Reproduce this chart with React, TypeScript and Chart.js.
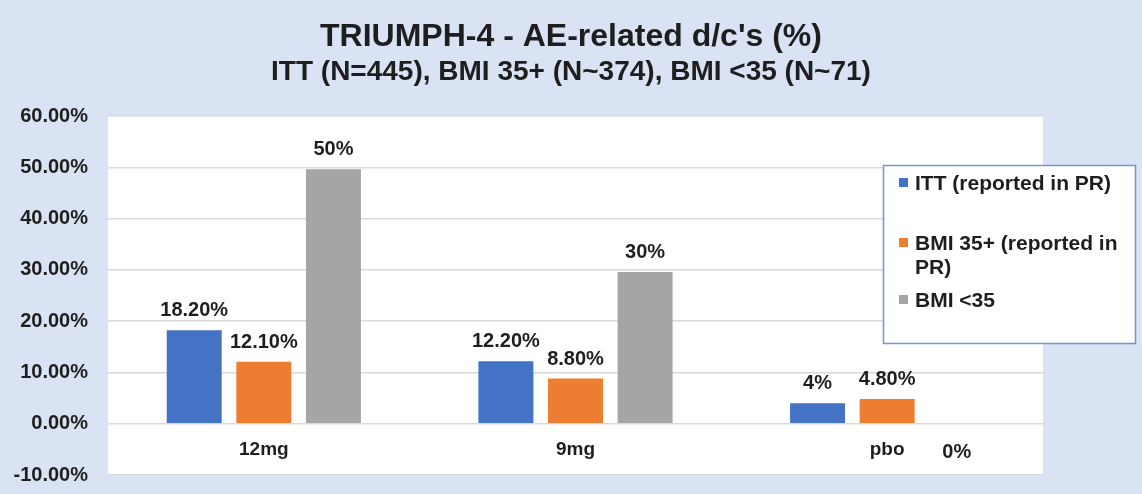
import React, { useEffect, useRef } from 'react';
import { Chart, registerables } from 'chart.js';

Chart.register(...registerables);

const categories = ['12mg', '9mg', 'pbo'];
const seriesNames = ['ITT (reported in PR)', 'BMI 35+ (reported in PR)', 'BMI <35'];
const seriesColors = ['#4472c4', '#ed7d31', '#a5a5a5'];
const ittValues = [18.2, 12.2, 4.0];
const bmi35PlusValues = [12.1, 8.8, 4.8];
const bmiUnder35Values = [49.6, 29.6, 0];
const ittLabels = ['18.20%', '12.20%', '4%'];
const bmi35PlusLabels = ['12.10%', '8.80%', '4.80%'];
const bmiUnder35Labels = ['50%', '30%', '0%'];
const yTicks = [-10, 0, 10, 20, 30, 40, 50, 60];
const titleText = "TRIUMPH-4 - AE-related d/c's (%)";
const subtitleText = 'ITT (N=445), BMI 35+ (N~374), BMI <35 (N~71)';

const FONT = "'Liberation Sans', Arial, sans-serif";
const TEXT = '#1e1e1e';
const BG = '#dae3f3';

const labelSets = [ittLabels, bmi35PlusLabels, bmiUnder35Labels];

const bgPlugin = {
  id: 'bgPlugin',
  beforeDraw(chart: any) {
    const { ctx, chartArea } = chart;
    ctx.save();
    ctx.fillStyle = BG;
    ctx.fillRect(0, 0, chart.width, chart.height);
    ctx.fillStyle = '#ffffff';
    ctx.fillRect(chartArea.left, chartArea.top, chartArea.right - chartArea.left, chartArea.bottom - chartArea.top);
    ctx.restore();
  },
};

const titlePlugin = {
  id: 'titlePlugin',
  afterDraw(chart: any) {
    const { ctx } = chart;
    const cx = chart.width / 2;
    ctx.save();
    ctx.fillStyle = TEXT;
    ctx.textAlign = 'center';
    ctx.textBaseline = 'alphabetic';
    ctx.font = `bold 32px ${FONT}`;
    ctx.fillText(titleText, cx, 46);
    ctx.font = `bold 28px ${FONT}`;
    ctx.fillText(subtitleText, cx, 80);
    ctx.restore();
  },
};

const dataLabelPlugin = {
  id: 'dataLabelPlugin',
  afterDatasetsDraw(chart: any) {
    const { ctx } = chart;
    const zero = chart.scales.y.getPixelForValue(0);
    ctx.save();
    ctx.font = `bold 20px ${FONT}`;
    ctx.fillStyle = TEXT;
    ctx.textAlign = 'center';
    ctx.textBaseline = 'alphabetic';
    chart.data.datasets.forEach((ds: any, i: number) => {
      const meta = chart.getDatasetMeta(i);
      meta.data.forEach((el: any, j: number) => {
        const v = ds.data[j];
        const text = labelSets[i][j];
        const y = v > 0 ? el.y - 14 : zero + 34;
        ctx.fillText(text, el.x, y);
      });
    });
    ctx.restore();
  },
};

const legendPlugin = {
  id: 'boxLegend',
  afterDraw(chart: any) {
    const { ctx } = chart;
    const bx = 883, by = 165, bw = 252, bh = 178;
    ctx.save();
    ctx.fillStyle = '#ffffff';
    ctx.fillRect(bx, by, bw, bh);
    ctx.strokeStyle = '#7396d1';
    ctx.lineWidth = 1.5;
    ctx.strokeRect(bx + 0.5, by + 0.5, bw, bh);
    ctx.font = `bold 21px ${FONT}`;
    ctx.textAlign = 'left';
    ctx.textBaseline = 'alphabetic';
    const baselines = [190, 250, 307];
    const maxW = 212;
    chart.data.datasets.forEach((ds: any, i: number) => {
      const base = baselines[i];
      ctx.fillStyle = ds.backgroundColor;
      ctx.fillRect(899, base - 12, 9, 9);
      ctx.fillStyle = TEXT;
      const words = String(ds.label).split(' ');
      const lines: string[] = [];
      let cur = '';
      words.forEach((w) => {
        const test = cur ? cur + ' ' + w : w;
        if (ctx.measureText(test).width > maxW && cur) {
          lines.push(cur);
          cur = w;
        } else {
          cur = test;
        }
      });
      if (cur) lines.push(cur);
      lines.forEach((ln, k) => ctx.fillText(ln, 915, base + k * 24));
    });
    ctx.restore();
  },
};

export default function App() {
  const canvasRef = useRef<HTMLCanvasElement | null>(null);

  useEffect(() => {
    document.body.style.margin = '0';
    const canvas = canvasRef.current;
    if (!canvas) return;
    const chart = new Chart(canvas, {
      type: 'bar',
      data: {
        labels: categories,
        datasets: [ittValues, bmi35PlusValues, bmiUnder35Values].map((vals, i) => ({
          label: seriesNames[i],
          data: vals,
          backgroundColor: seriesColors[i],
          borderWidth: 0,
          categoryPercentage: 0.67,
          barPercentage: 0.79,
        })),
      },
      options: {
        responsive: true,
        maintainAspectRatio: false,
        animation: false,
        layout: { padding: { top: 116, right: 99, bottom: 19, left: 0 } },
        plugins: {
          legend: { display: false },
          tooltip: { enabled: false },
          title: { display: false },
        },
        scales: {
          x: {
            position: { y: 0 } as any,
            grid: { display: false, drawTicks: false },
            border: { display: false },
            afterFit: (scale: any) => {
              scale.height = 0;
            },
            ticks: {
              color: TEXT,
              font: { family: FONT, size: 19, weight: 'bold' },
              padding: 15,
            },
          },
          y: {
            min: -10,
            max: 60,
            afterBuildTicks: (scale: any) => {
              scale.ticks = yTicks.map((v) => ({ value: v }));
            },
            afterFit: (scale: any) => {
              scale.width = 108;
            },
            grid: {
              color: '#d9d9d9',
              lineWidth: 1.5,
              drawTicks: true,
              tickLength: 20,
              tickColor: 'rgba(0,0,0,0)',
            },
            border: { display: false },
            ticks: {
              color: TEXT,
              font: { family: FONT, size: 20, weight: 'bold' },
              padding: 0,
              callback: (v: any) => Number(v).toFixed(2) + '%',
            },
          },
        },
      },
      plugins: [bgPlugin, dataLabelPlugin, legendPlugin, titlePlugin],
    });
    return () => chart.destroy();
  }, []);

  return (
    <div style={{ width: 1142, height: 494, position: 'relative' }}>
      <canvas ref={canvasRef} />
    </div>
  );
}
